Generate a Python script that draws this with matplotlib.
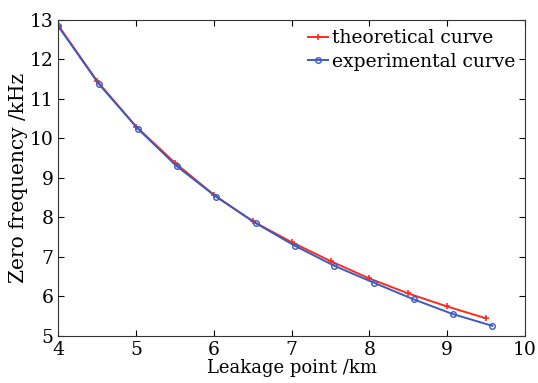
import matplotlib
matplotlib.use('Agg')
import matplotlib.pyplot as plt

# theoretical curve
theo_x = [4.0, 4.5, 5.0, 5.5, 6.0, 6.5, 7.0, 7.5, 8.0, 8.5, 9.0, 9.5]
theo_y = [12.86, 11.45, 10.30, 9.38, 8.57, 7.90, 7.37, 6.89, 6.45, 6.07, 5.74, 5.44]

# experimental curve
exp_x = [4.0, 4.52, 5.02, 5.52, 6.03, 6.54, 7.04, 7.55, 8.06, 8.57, 9.07, 9.58]
exp_y = [12.84, 11.38, 10.25, 9.30, 8.52, 7.85, 7.28, 6.77, 6.34, 5.92, 5.55, 5.25]

plt.rcParams['font.family'] = ['DejaVu Serif']
plt.rcParams['mathtext.fontset'] = 'dejavuserif'

fig = plt.figure(figsize=(5.38, 3.83), dpi=100)
ax = fig.add_axes([0.1084, 0.1235, 0.8674, 0.8243])

ax.plot(theo_x, theo_y, color='#ff2a1f', lw=1.4, marker='+', ms=5, mew=1.2,
        label='theoretical curve')
ax.plot(exp_x, exp_y, color='#3a5bbf', lw=1.4, marker='o', ms=4, mfc='none', mew=1.0,
        label='experimental curve')

ax.set_xlim(4, 10)
ax.set_ylim(5, 13)
ax.set_xticks(range(4, 11))
ax.set_yticks(range(5, 14))
ax.tick_params(direction='in', top=True, right=True, labelsize=13.5, length=4, width=0.8)
for s in ax.spines.values():
    s.set_linewidth(0.8)
    s.set_color('#333333')

ax.set_xlabel('Leakage point /km', fontsize=13, labelpad=0)
ax.set_ylabel('Zero frequency /kHz', fontsize=14.5, labelpad=1)

ax.legend(loc='upper right', frameon=False, fontsize=13.5, handlelength=1.1,
          handletextpad=0.2, labelspacing=0.3, borderaxespad=0.1,
          bbox_to_anchor=(1.0, 1.0))

fig.savefig('out.png', dpi=100)
